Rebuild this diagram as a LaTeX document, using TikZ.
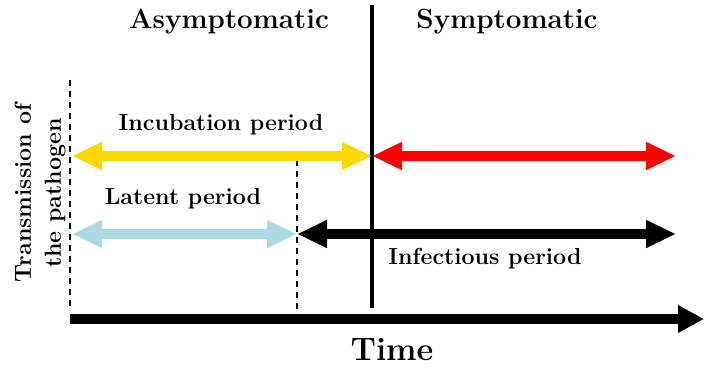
\documentclass[tikz,border=0pt]{standalone}
\usetikzlibrary{arrows.meta}
\definecolor{incub}{RGB}{255,215,0}
\definecolor{latent}{RGB}{173,216,230}
\begin{document}
\begin{tikzpicture}[x=1pt,y=-1pt,
  bigarrow/.style={line width=10pt,{Triangle[length=30pt,width=26pt]}-{Triangle[length=30pt,width=26pt]}},
  dashline/.style={line width=2pt,dash pattern=on 6pt off 5pt},
  lbl/.style={font=\fontsize{23.2}{30}\selectfont\bfseries,inner sep=0pt},
  hdr/.style={font=\fontsize{27.8}{32}\selectfont\bfseries,inner sep=0pt}]
\useasboundingbox (0,0) rectangle (704,367);
% coordinates
\coordinate (sTop) at (372,5);
\coordinate (sBot) at (372,308);
\coordinate (d1Top) at (70,80);
\coordinate (d1Bot) at (70,310);
\coordinate (d2Top) at (297,160);
\coordinate (d2Bot) at (297,310);
\coordinate (tA) at (70,319);
\coordinate (tB) at (704,319);
\coordinate (iA) at (72,156);
\coordinate (iB) at (372,156);
\coordinate (rB) at (676,156);
\coordinate (lA) at (72,234);
\coordinate (lB) at (297,234);
\coordinate (fB) at (676,234);
% lines
\draw[line width=4pt] (sTop) -- (sBot);
\draw[dashline] (d1Top) -- (d1Bot);
\draw[dashline] (d2Top) -- (d2Bot);
\draw[line width=10pt,-{Triangle[length=26pt,width=26pt]}] (tA) -- (tB);
\draw[bigarrow,incub] (iA) -- (iB);
\draw[bigarrow,red] (iB) -- (rB);
\draw[bigarrow,latent] (lA) -- (lB);
\draw[bigarrow,black] (lB) -- (fB);
% texts
\node[hdr] (asym) at (229,22) {Asymptomatic};
\node[hdr] (sym) at (507,22) {Symptomatic};
\node[lbl] (inc) at (221,125) {Incubation period};
\node[lbl] (lat) at (183,199) {Latent period};
\node[lbl] (inf) at (485,259) {Infectious period};
\node[font=\fontsize{32.5}{36}\selectfont\bfseries,inner sep=0pt] (time) at (392,350) {Time};
\node[lbl,rotate=90,align=center] (trans) at (40,193) {Transmission of\\the pathogen};
\end{tikzpicture}
\end{document}
